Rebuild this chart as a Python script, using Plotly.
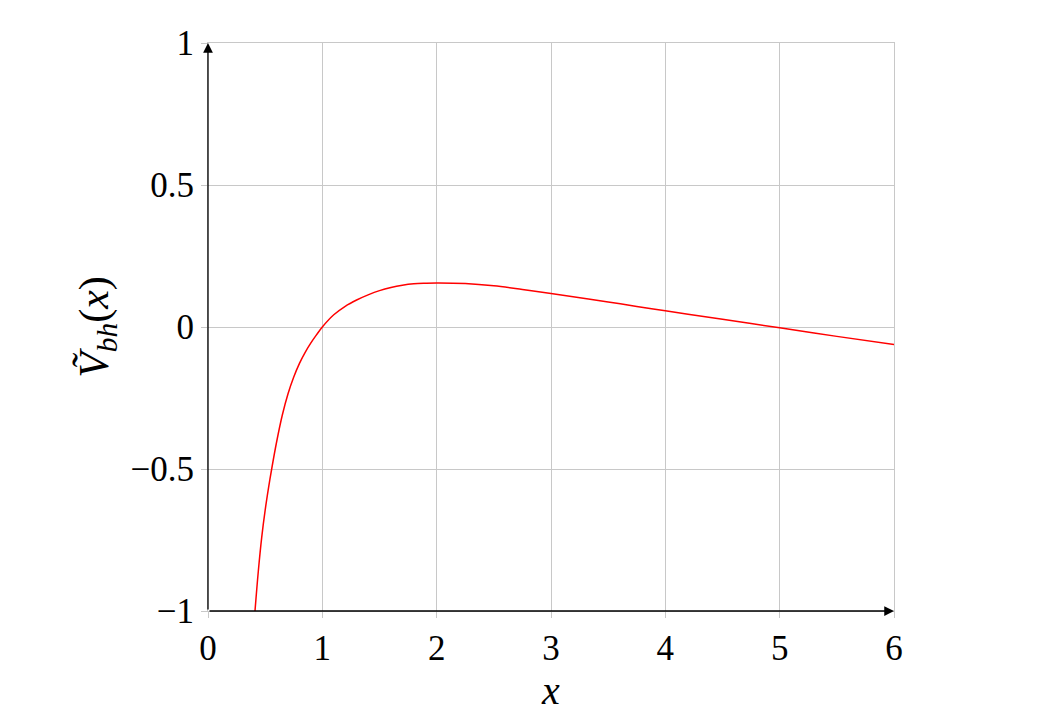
import plotly.graph_objects as go

# curve values
x_vals = [0.411, 0.44, 0.47, 0.5, 0.53, 0.557, 0.6, 0.65, 0.7, 0.75, 0.8, 0.85, 0.9,
          0.95, 1.0, 1.1, 1.2, 1.3, 1.4, 1.5, 1.6, 1.7, 1.8, 1.9, 2.0, 2.25, 2.5, 2.75,
          3.0, 3.5, 4.0, 4.5, 5.0, 5.5, 6.0]
v_vals = [-1.0, -0.86, -0.74, -0.645, -0.565, -0.5, -0.405, -0.31, -0.235, -0.176,
          -0.128, -0.089, -0.056, -0.027, 0.0, 0.043, 0.073, 0.095, 0.113, 0.128,
          0.139, 0.147, 0.152, 0.154, 0.155, 0.153, 0.145, 0.132, 0.118, 0.088, 0.057,
          0.027, -0.003, -0.033, -0.062]

x_ticks = [0, 1, 2, 3, 4, 5, 6]
y_ticks = [-1, -0.5, 0, 0.5, 1]
y_tick_text = ["\u22121", "\u22120.5", "0", "0.5", "1"]

font_family = "Liberation Serif, DejaVu Serif, serif"
grid_col = "#c8c8c8"

fig = go.Figure()
fig.add_trace(go.Scatter(x=x_vals, y=v_vals, mode="lines",
                         line=dict(color="red", width=1.5, shape="spline", smoothing=1.0),
                         showlegend=False))

# axis arrows
fig.add_annotation(x=6, y=-1, ax=0, ay=-1, xref="x", yref="y", axref="x", ayref="y",
                   text="", showarrow=True, arrowhead=2, arrowsize=1.5, arrowwidth=1.3,
                   arrowcolor="black")
fig.add_annotation(x=0, y=1, ax=0, ay=-1, xref="x", yref="y", axref="x", ayref="y",
                   text="", showarrow=True, arrowhead=2, arrowsize=1.5, arrowwidth=1.3,
                   arrowcolor="black")

fig.update_layout(
    width=1045, height=725,
    margin=dict(l=200, r=159, t=35, b=122),
    plot_bgcolor="white", paper_bgcolor="white",
    font=dict(family=font_family, size=35, color="black"),
    xaxis=dict(range=[0, 6], tickvals=x_ticks, showgrid=True, gridcolor=grid_col,
               gridwidth=1, zeroline=False, showline=True, linecolor=grid_col,
               linewidth=1, mirror=True, ticks="outside",
               ticklen=6, tickcolor=grid_col, automargin=False,
               title=dict(text="<i>x</i>", standoff=8, font=dict(size=40))),
    yaxis=dict(range=[-1, 1], tickvals=y_ticks, ticktext=y_tick_text, showgrid=True,
               gridcolor=grid_col, gridwidth=1, zeroline=False, showline=True,
               linecolor=grid_col, linewidth=1, mirror=True,
               ticks="outside", ticklen=6, tickcolor=grid_col, automargin=False,
               title=dict(text="<i>Ṽ</i><sub><i>bh</i></sub>(<i>x</i>)", standoff=8,
                          font=dict(size=42))),
)

fig.write_html("out.html")
